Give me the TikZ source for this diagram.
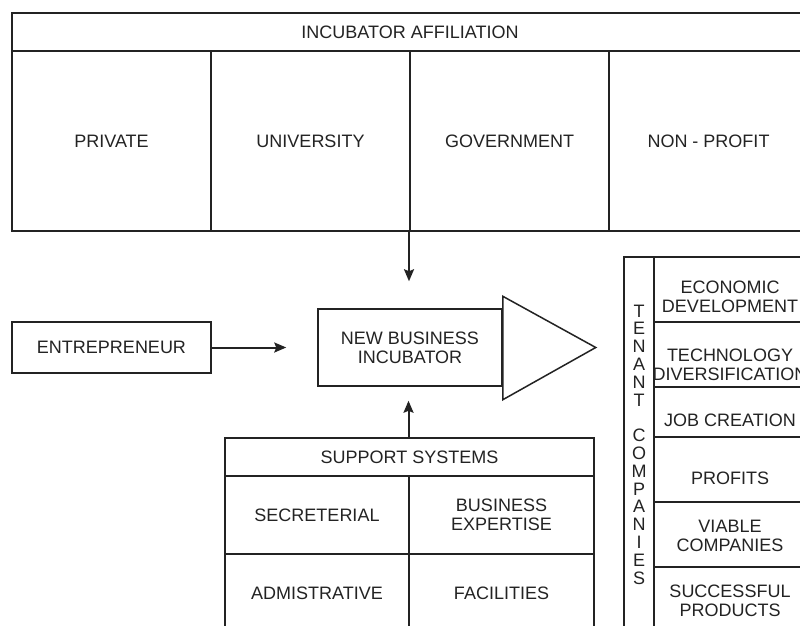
\documentclass[tikz,border=0pt]{standalone}
\usepackage{fontspec}
\setmainfont{Liberation Sans}
\usetikzlibrary{arrows.meta,calc}
\definecolor{ink}{RGB}{35,35,35}
\begin{document}
\begin{tikzpicture}[x=1pt,y=-1pt,line width=1.5pt,
  box/.style={draw=ink,line width=1.5pt,inner sep=0pt,align=center,text=ink,font=\fontsize{18}{19}\selectfont},
  lbl/.style={inner sep=0pt,align=center,text=ink,font=\fontsize{18}{18.5}\selectfont},
  arr/.style={draw=ink,line width=2pt,-{Stealth[length=12pt,width=10pt,inset=2pt]}}]
\useasboundingbox (0,0) rectangle (800,626);
\clip (0,0) rectangle (800,626);
\fill[white] (0,0) rectangle (800,626);
% incubator affiliation
\node[box,minimum width=796pt,minimum height=38pt] (affil) at (410,32) {INCUBATOR AFFILIATION};
\node[box,minimum width=199pt,minimum height=180pt] (private) at (111.5,141) {PRIVATE};
\node[box,minimum width=199pt,minimum height=180pt] (univ) at (310.5,141) {UNIVERSITY};
\node[box,minimum width=199pt,minimum height=180pt] (gov) at (509.5,141) {GOVERNMENT};
\node[box,minimum width=199pt,minimum height=180pt] (nonprofit) at (708.5,141) {NON - PROFIT};
% entrepreneur and incubator
\node[box,minimum width=199pt,minimum height=51pt] (entre) at (111.5,347.5) {ENTREPRENEUR};
\node[box,minimum width=184pt,minimum height=77pt] (incub) at (410,347.5) {NEW BUSINESS\\INCUBATOR};
\draw[ink,line width=1.5pt] (incub.north east) ++(0,-12) coordinate (tritop)
  -- ($(incub.east)+(93,0)$) coordinate (tritip)
  -- ($(incub.south east)+(0,13)$) coordinate (tribot) -- cycle;
% support systems
\node[box,minimum width=369pt,minimum height=38pt] (support) at (409.5,457) {SUPPORT SYSTEMS};
\node[box,minimum width=184pt,minimum height=78pt] (secr) at (317,515) {SECRETERIAL};
\node[box,minimum width=185pt,minimum height=78pt] (expert) at (501.5,515) {BUSINESS\\EXPERTISE};
\node[box,minimum width=184pt,minimum height=78pt] (admin) at (317,593) {ADMISTRATIVE};
\node[box,minimum width=185pt,minimum height=78pt] (facil) at (501.5,593) {FACILITIES};
% tenant companies
\node[box,minimum width=30pt,minimum height=375pt,font=\fontsize{18}{17.8}\selectfont] (tenant) at (639,444.5)
  {T\\E\\N\\A\\N\\T\\\mbox{}\\C\\O\\M\\P\\A\\N\\I\\E\\S};
\node[box,minimum width=152pt,minimum height=65pt] (econ) at (730,289.5) {};
\node[box,minimum width=152pt,minimum height=65pt] (tech) at (730,354.5) {};
\node[box,minimum width=152pt,minimum height=50pt] (job) at (730,412) {};
\node[box,minimum width=152pt,minimum height=65pt] (profit) at (730,469.5) {};
\node[box,minimum width=152pt,minimum height=65pt] (viable) at (730,534.5) {};
\node[box,minimum width=152pt,minimum height=65pt] (success) at (730,599.5) {};
\node[lbl] (econT) at (730,297) {ECONOMIC\\DEVELOPMENT};
\node[lbl] (techT) at (730,365) {TECHNOLOGY\\DIVERSIFICATION};
\node[lbl] (jobT) at (730,420) {JOB CREATION};
\node[lbl] (profitT) at (730,478) {PROFITS};
\node[lbl] (viableT) at (730,536) {VIABLE\\COMPANIES};
\node[lbl] (successT) at (730,601) {SUCCESSFUL\\PRODUCTS};
% arrows
\draw[arr,shorten >=27pt] ([xshift=-1pt]incub.north |- univ.south) -- ([xshift=-1pt]incub.north);
\draw[arr,shorten >=31pt] (entre.east) -- (incub.west);
\draw[arr,shorten >=14pt] ([xshift=-1pt]support.north) -- ([xshift=-1pt]support.north |- incub.south);
\end{tikzpicture}
\end{document}
